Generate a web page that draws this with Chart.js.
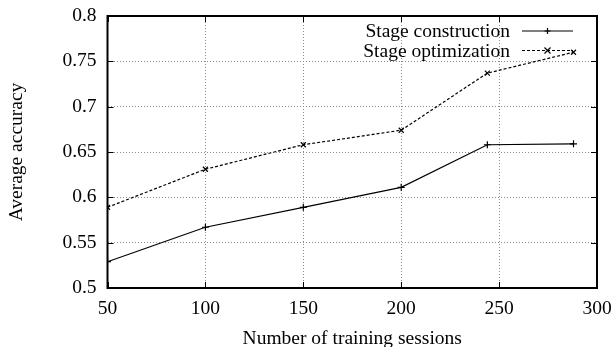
<!DOCTYPE html>
<html>
<head>
<meta charset="utf-8">
<script src="https://cdn.jsdelivr.net/npm/chart.js@4"></script>
<style>
  html, body { margin: 0; padding: 0; background: #fff; }
  #wrap { width: 616px; height: 347px; }
</style>
</head>
<body>
<div id="wrap"><canvas id="c" width="616" height="347"></canvas></div>
<script>
// Training sessions and the accuracy reached by each stage
const sessions = [50, 100, 150, 200, 244, 288];
const constructionAcc = [0.529, 0.567, 0.589, 0.611, 0.658, 0.659];
const optimizationAcc = [0.589, 0.631, 0.658, 0.674, 0.737, 0.760];
const seriesNames = ['Stage construction', 'Stage optimization'];
const xTickValues = [50, 100, 150, 200, 250, 300];
const xTickLabels = ['50', '100', '150', '200', '250', '300'];
const yTickValues = [0.5, 0.55, 0.6, 0.65, 0.7, 0.75, 0.8];
const yTickLabels = ['0.5', '0.55', '0.6', '0.65', '0.7', '0.75', '0.8'];

const FONT = 'Liberation Serif, Times New Roman, serif';
const FONT_SIZE = 19.5;

function toPoints(xs, ys) {
  return xs.map((x, i) => ({ x: x, y: ys[i] }));
}

function labelFor(values, labels) {
  return function (v) {
    const i = values.findIndex(t => Math.abs(t - v) < 1e-9);
    return i >= 0 ? labels[i] : '';
  };
}

// Frame, inward tick marks and key drawn on top of the plot
const framePlugin = {
  id: 'frame',
  afterDraw(chart) {
    const { ctx, chartArea: a, scales } = chart;
    ctx.save();
    ctx.strokeStyle = '#000';
    ctx.lineWidth = 1;
    const t = 6;
    ctx.beginPath();
    xTickValues.forEach(v => {
      const px = Math.round(scales.x.getPixelForValue(v)) + 0.5;
      ctx.moveTo(px, a.bottom); ctx.lineTo(px, a.bottom - t);
      ctx.moveTo(px, a.top); ctx.lineTo(px, a.top + t);
    });
    yTickValues.forEach(v => {
      const py = Math.round(scales.y.getPixelForValue(v)) + 0.5;
      ctx.moveTo(a.left, py); ctx.lineTo(a.left + t, py);
      ctx.moveTo(a.right, py); ctx.lineTo(a.right - t, py);
    });
    ctx.stroke();

    ctx.lineWidth = 2;
    ctx.strokeRect(a.left, a.top, a.right - a.left, a.bottom - a.top);

    // key: right-aligned names followed by a line sample with its marker
    const rows = [31, 50.5];
    const textRight = 510;
    const s0 = 522, s1 = 573;
    ctx.font = FONT_SIZE + 'px ' + FONT;
    ctx.textAlign = 'right';
    ctx.textBaseline = 'middle';
    chart.data.datasets.forEach((ds, i) => {
      const y = rows[i];
      ctx.fillStyle = '#000';
      ctx.fillText(ds.label, textRight, y + 1);
      ctx.strokeStyle = ds.borderColor;
      ctx.lineWidth = ds.borderWidth;
      ctx.setLineDash(ds.borderDash || []);
      ctx.beginPath();
      ctx.moveTo(s0, y); ctx.lineTo(s1, y);
      ctx.stroke();
      ctx.setLineDash([]);
      const m = (s0 + s1) / 2, r = 3;
      ctx.beginPath();
      if (ds.pointStyle === 'cross') {
        ctx.moveTo(m - r, y); ctx.lineTo(m + r, y);
        ctx.moveTo(m, y - r); ctx.lineTo(m, y + r);
      } else {
        ctx.moveTo(m - r, y - r); ctx.lineTo(m + r, y + r);
        ctx.moveTo(m - r, y + r); ctx.lineTo(m + r, y - r);
      }
      ctx.stroke();
    });
    ctx.restore();
  }
};

const gridStyle = {
  color: '#8a8a8a',
  lineWidth: 1,
  drawTicks: false
};

new Chart(document.getElementById('c'), {
  type: 'line',
  data: {
    datasets: [
      {
        label: seriesNames[0],
        data: toPoints(sessions, constructionAcc),
        borderColor: '#000',
        backgroundColor: '#000',
        borderWidth: 1.2,
        pointStyle: 'cross',
        pointRadius: 3.5,
        pointBorderWidth: 1.2,
        tension: 0
      },
      {
        label: seriesNames[1],
        data: toPoints(sessions, optimizationAcc),
        borderColor: '#000',
        backgroundColor: '#000',
        borderWidth: 1.2,
        borderDash: [3, 2],
        pointStyle: 'crossRot',
        pointRadius: 3.5,
        pointBorderWidth: 1.2,
        tension: 0
      }
    ]
  },
  options: {
    responsive: false,
    animation: false,
    devicePixelRatio: 1,
    layout: { padding: { top: 16, right: 19, left: 0, bottom: 0 } },
    plugins: {
      legend: { display: false },
      tooltip: { enabled: false }
    },
    scales: {
      x: {
        type: 'linear',
        min: 50,
        max: 300,
        afterBuildTicks(scale) { scale.ticks = xTickValues.map(v => ({ value: v })); },
        afterFit(scale) {
          scale.height = 59;
          scale.paddingLeft = 0; scale.paddingRight = 0;
          scale.paddingTop = 0; scale.paddingBottom = 0;
        },
        grid: gridStyle,
        border: { display: false, dash: [1, 2] },
        ticks: {
          padding: 9,
          color: '#000',
          font: { family: FONT, size: FONT_SIZE },
          maxRotation: 0,
          callback: labelFor(xTickValues, xTickLabels)
        },
        title: {
          display: true,
          text: 'Number of training sessions',
          color: '#000',
          font: { family: FONT, size: FONT_SIZE, lineHeight: 0.8 },
          padding: { top: 0, bottom: 0 }
        }
      },
      y: {
        type: 'linear',
        min: 0.5,
        max: 0.8,
        afterBuildTicks(scale) { scale.ticks = yTickValues.map(v => ({ value: v })); },
        afterFit(scale) {
          scale.width = 107.5;
          scale.paddingLeft = 0; scale.paddingRight = 0;
          scale.paddingTop = 0; scale.paddingBottom = 0;
        },
        grid: gridStyle,
        border: { display: false, dash: [1, 2] },
        ticks: {
          padding: 11,
          color: '#000',
          font: { family: FONT, size: FONT_SIZE },
          callback: labelFor(yTickValues, yTickLabels)
        },
        title: {
          display: true,
          text: 'Average accuracy',
          color: '#000',
          font: { family: FONT, size: FONT_SIZE, lineHeight: 0.8 },
          padding: { top: 9.5, bottom: 0 }
        }
      }
    }
  },
  plugins: [framePlugin]
});
</script>
</body>
</html>
